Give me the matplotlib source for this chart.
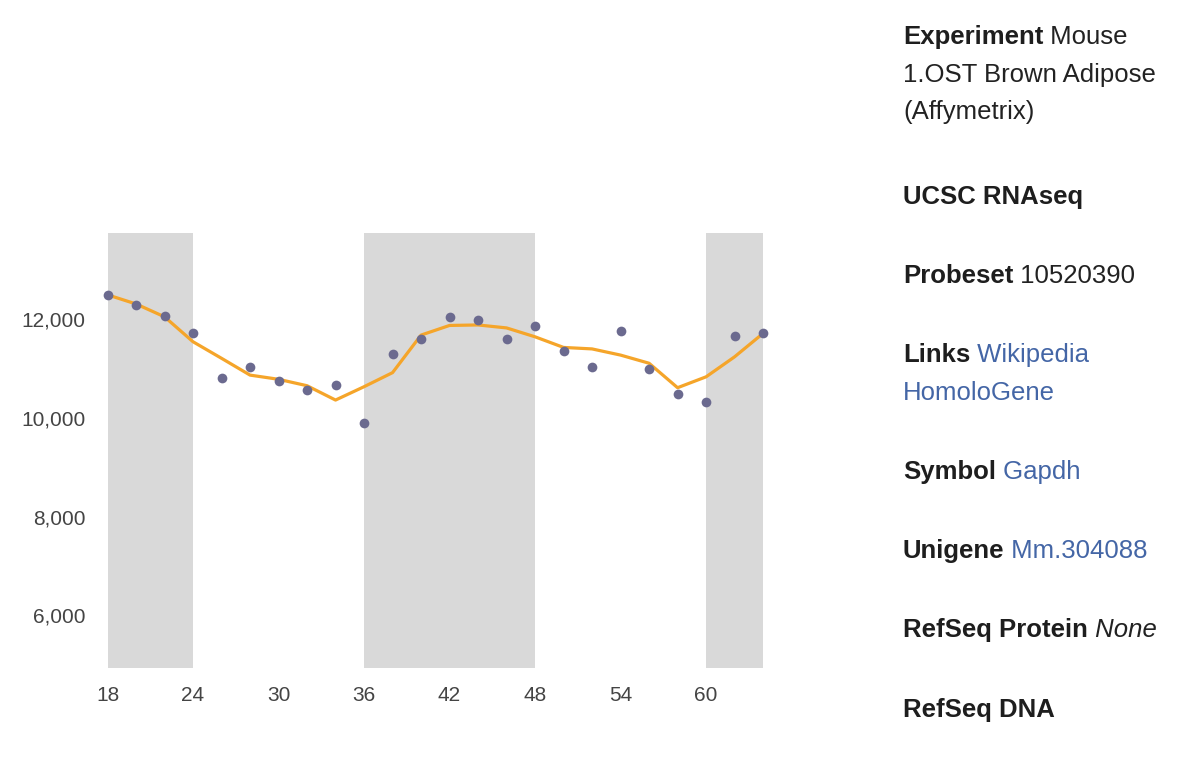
import matplotlib
matplotlib.use("Agg")
import matplotlib.pyplot as plt
from matplotlib.ticker import FuncFormatter

# hours and expression values
hours = [18, 20, 22, 24, 26, 28, 30, 32, 34, 36, 38, 40,
         42, 44, 46, 48, 50, 52, 54, 56, 58, 60, 62, 64]
measured = [12490, 12290, 12070, 11710, 10810, 11030, 10750, 10560,
            10660, 9895, 11290, 11595, 12040, 11980, 11600, 11860,
            11345, 11035, 11765, 10995, 10490, 10315, 11655, 11725]
smoothed = [12490, 12305, 12045, 11540, 11205, 10865, 10780, 10650,
            10360, 10630, 10915, 11675, 11870, 11880, 11820, 11640,
            11425, 11395, 11270, 11105, 10610, 10830, 11235, 11710]
dark_bands = [(18, 24), (36, 48), (60, 64)]
xticks = [18, 24, 30, 36, 42, 48, 54, 60]
yticks = [6000, 8000, 10000, 12000]

# info blocks: each block is a list of lines,
# a line is (bold label, plain value, value style, value colour)
info = [
    [("Experiment", " Mouse", "normal", "#222222"),
     ("", "1.OST Brown Adipose", "normal", "#222222"),
     ("", "(Affymetrix)", "normal", "#222222")],
    [("UCSC RNAseq", "", "normal", "#222222")],
    [("Probeset", " 10520390", "normal", "#222222")],
    [("Links", " Wikipedia", "normal", "#4466a6"),
     ("", "HomoloGene", "normal", "#4466a6")],
    [("Symbol", " Gapdh", "normal", "#4466a6")],
    [("Unigene", " Mm.304088", "normal", "#4466a6")],
    [("RefSeq Protein", " None", "italic", "#222222")],
    [("RefSeq DNA", "", "normal", "#222222")],
]

plt.rcParams['font.family'] = ['Liberation Sans', 'DejaVu Sans']

fig = plt.figure(figsize=(12, 7.66), dpi=100)
ax = fig.add_axes([0.0896, 0.1275, 0.5463, 0.5687])

for a, b in dark_bands:
    ax.axvspan(a, b, color="#d9d9d9", lw=0, zorder=0)

ax.plot(hours, smoothed, color="#f5a52a", lw=2.3, zorder=2, clip_on=False)
ax.plot(hours, measured, "o", color="#6b6a8f", ms=7, mec="none",
        zorder=3, clip_on=False)

ax.set_xlim(18, 64)
ax.set_ylim(4930, 13747)
ax.set_xticks(xticks)
ax.set_yticks(yticks)
ax.yaxis.set_major_formatter(FuncFormatter(lambda v, p: f"{int(v):,}"))
ax.tick_params(length=0, labelsize=15, labelcolor="#444444")
ax.tick_params(axis="x", pad=13)
ax.tick_params(axis="y", pad=16)
for s in ax.spines.values():
    s.set_visible(False)

# info panel on the right
renderer = fig.canvas.get_renderer()
x0 = 903
y = 766 - 44
line_step = 37.7
block_step = 79.2
for block in info:
    yb = y
    for label, value, style, col in block:
        x = x0
        if label:
            t = fig.text(x / 1200, yb / 766, label, fontsize=18.5,
                         weight="bold", color="#1e1e1e", va="baseline")
            x += t.get_window_extent(renderer).width
        if value:
            fig.text(x / 1200, yb / 766, value, fontsize=18.5, style=style,
                     color=col, va="baseline")
        yb -= line_step
    y -= (len(block) - 1) * line_step + block_step
    if len(block) == 3:
        y -= 5

fig.savefig("out.png", dpi=100)
